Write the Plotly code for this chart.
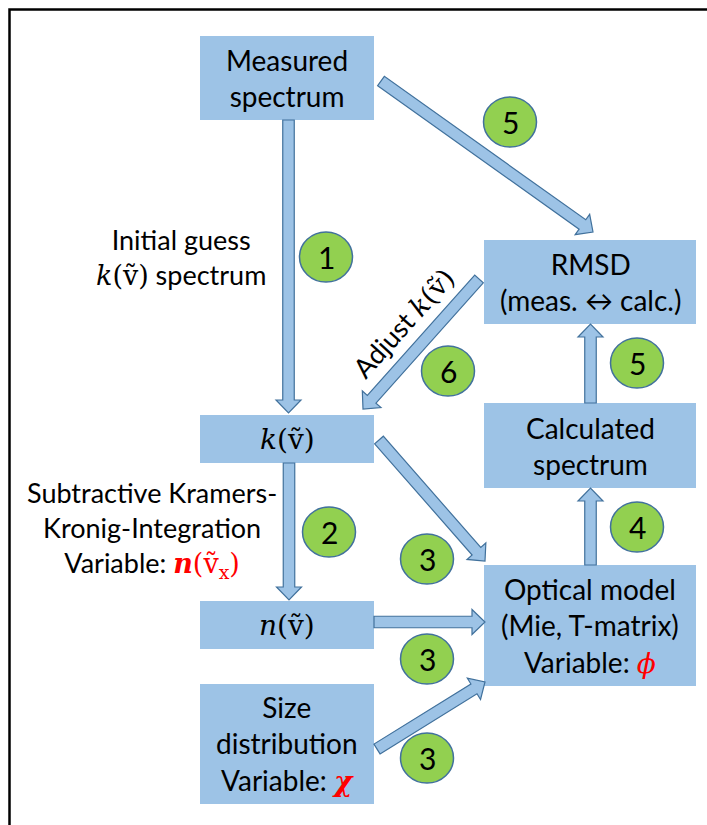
import math
import plotly.graph_objects as go

W, H = 707, 825
TEXT_FONT = "Lato"
MATH = "font-family:'DejaVu Serif'"

# boxes: label, left, right, top, bottom (pixel units)
box_labels = [
    "Measured<br>spectrum",
    "RMSD<br>(meas. \u2194 calc.)",
    f"<span style=\"{MATH}\"><i>k</i>(\u1e7d)</span>",
    "Calculated<br>spectrum",
    f"<span style=\"{MATH}\"><i>n</i>(\u1e7d)</span>",
    "Optical model<br>(Mie, T-matrix)<br>Variable: "
    f"<span style=\"{MATH};color:red\"><i>\u03d5</i></span>",
    "Size<br>distribution<br>Variable: "
    f"<span style=\"{MATH};color:red\"><b><i>\u03c7</i></b></span>",
]
box_x0 = [200, 484, 200, 484, 200, 484, 200]
box_x1 = [374, 696, 374, 696, 374, 696, 374]
box_y0 = [36, 240, 415, 403, 601, 565, 684]
box_y1 = [120, 324, 463, 488, 649, 686, 804]

# block arrows: tail (x, y) -> tip (x, y)
arrow_x0 = [288.5, 289, 381, 479, 590.5, 590.5, 379, 374, 377]
arrow_y0 = [120, 463, 81, 279, 403, 565, 440, 622, 749]
arrow_x1 = [288.5, 289, 593, 363, 590.5, 590.5, 485, 485, 485]
arrow_y1 = [413, 600, 232, 409, 324, 488, 561, 622, 682]

# numbered step markers
step_labels = ["5", "1", "6", "5", "4", "2", "3", "3", "3"]
step_x = [510, 326, 448, 637, 637, 329, 427, 427, 427]
step_y = [122, 257, 371, 363, 527, 532, 559, 659, 758]

# free text
side_labels = [
    "Initial guess<br>"
    f"<span style=\"{MATH}\"><i>k</i>(\u1e7d)</span> spectrum",
    "Subtractive Kramers-<br>Kronig-Integration<br>Variable: "
    f"<span style=\"{MATH};color:red\"><b><i>n</i></b>(\u1e7d<sub>x</sub>)</span>",
]
side_x = [181, 152]
side_y = [257, 529]

BOX_FILL = "#9DC3E6"
ARROW_LINE = "#41719C"
STEP_FILL = "#92D050"


def arrow_path(x0, y0, x1, y1, shaft=11.5, head_w=25, head_len=13):
    dx, dy = x1 - x0, y1 - y0
    L = math.hypot(dx, dy)
    ux, uy = dx / L, dy / L
    px, py = -uy, ux
    bx, by = x1 - ux * head_len, y1 - uy * head_len
    pts = [
        (x0 + px * shaft / 2, y0 + py * shaft / 2),
        (bx + px * shaft / 2, by + py * shaft / 2),
        (bx + px * head_w / 2, by + py * head_w / 2),
        (x1, y1),
        (bx - px * head_w / 2, by - py * head_w / 2),
        (bx - px * shaft / 2, by - py * shaft / 2),
        (x0 - px * shaft / 2, y0 - py * shaft / 2),
    ]
    return "M " + " L ".join(f"{x:.2f},{y:.2f}" for x, y in pts) + " Z"


fig = go.Figure()
shapes = []
annotations = []

# outer frame: only the left and top edges are inside the picture
shapes.append(dict(type="path", path=f"M 9.5,{H} L 9.5,9.5 L {W},9.5",
                   line=dict(color="black", width=2.5), layer="below"))

for lab, x0, x1, y0, y1 in zip(box_labels, box_x0, box_x1, box_y0, box_y1):
    shapes.append(dict(type="rect", x0=x0, x1=x1, y0=y0, y1=y1,
                       fillcolor=BOX_FILL, line=dict(width=0)))
    annotations.append(dict(x=(x0 + x1) / 2, y=(y0 + y1) / 2, text=lab,
                            showarrow=False, xanchor="center", yanchor="middle",
                            font=dict(family=TEXT_FONT, size=28, color="black")))

for x0, y0, x1, y1 in zip(arrow_x0, arrow_y0, arrow_x1, arrow_y1):
    shapes.append(dict(type="path", path=arrow_path(x0, y0, x1, y1),
                       fillcolor=BOX_FILL, line=dict(color=ARROW_LINE, width=1.2)))

for lab, cx, cy in zip(step_labels, step_x, step_y):
    shapes.append(dict(type="circle", x0=cx - 26.5, x1=cx + 26.5, y0=cy - 25, y1=cy + 25,
                       fillcolor=STEP_FILL, line=dict(color=ARROW_LINE, width=1.5)))
    annotations.append(dict(x=cx, y=cy, text=lab, showarrow=False,
                            xanchor="center", yanchor="middle",
                            font=dict(family=TEXT_FONT, size=30, color="black")))

for lab, x, y in zip(side_labels, side_x, side_y):
    annotations.append(dict(x=x, y=y, text=lab, showarrow=False,
                            xanchor="center", yanchor="middle",
                            font=dict(family=TEXT_FONT, size=27, color="black")))

annotations.append(dict(
    x=403, y=322, textangle=-48, showarrow=False,
    text=f"Adjust <span style=\"{MATH}\"><i>k</i>(\u1e7d)</span>",
    xanchor="center", yanchor="middle",
    font=dict(family=TEXT_FONT, size=27, color="black")))

fig.update_layout(
    width=W, height=H,
    margin=dict(l=0, r=0, t=0, b=0),
    paper_bgcolor="white", plot_bgcolor="white",
    xaxis=dict(range=[0, W], visible=False, fixedrange=True),
    yaxis=dict(range=[H, 0], visible=False, fixedrange=True),
    shapes=shapes,
    annotations=annotations,
    showlegend=False,
)

# page has a default 8px body margin; drop it so the figure fills the window
fig.write_html(
    "out.html",
    config={"displayModeBar": False},
    post_script="document.body.style.margin='0';document.body.style.overflow='hidden';",
)
